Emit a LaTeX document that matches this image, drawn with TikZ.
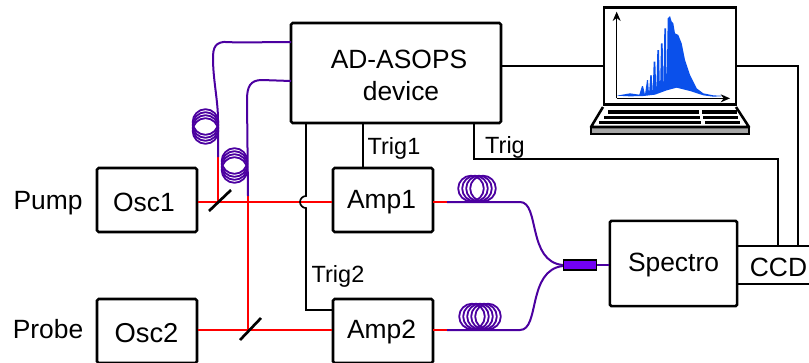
\documentclass[tikz,border=0pt]{standalone}
\usepackage{fontspec}
\setmainfont{Liberation Sans}
\usetikzlibrary{arrows.meta}
\definecolor{fibre}{RGB}{75,0,160}
\definecolor{specblue}{RGB}{10,80,235}
\definecolor{couplerfill}{RGB}{115,0,245}
\tikzset{
	box/.style={draw,line width=1.9pt,rounded corners=1.2pt,inner sep=0pt,font=\fontsize{19.8}{23}\selectfont},
	label/.style={inner sep=0pt,font=\fontsize{19.8}{23}\selectfont},
	smalllabel/.style={inner sep=0pt,font=\fontsize{17.6}{20}\selectfont},
	beam/.style={red,line width=1.6pt},
	fibreline/.style={fibre,line width=1.5pt},
	coilring/.style={fibre,line width=1.35pt},
	wire/.style={line width=1.25pt},
	mirror/.style={line width=2pt},
}
\begin{document}
\begin{tikzpicture}[x=0.75pt,y=-0.75pt]
	\useasboundingbox (0,0) rectangle (809,362);
	\begin{scope}
		\clip (0,0) rectangle (809,362);
		% boxes
		\node[box,minimum width=75pt,minimum height=48pt] (osc1) at (147,200) {};
		\node[box,minimum width=75pt,minimum height=48pt] (amp1) at (383,200) {};
		\node[box,minimum width=75pt,minimum height=48pt] (osc2) at (147,331) {};
		\node[box,minimum width=75pt,minimum height=48pt] (amp2) at (383,331) {};
		\node[box,minimum width=157.5pt,minimum height=75pt] (device) at (396,73) {};
		\node[box,minimum width=95.5pt,minimum height=64pt] (spectro) at (673.5,263.5) {};
		\draw[line width=1.9pt] (737,246) -- (812,246) (737,284) -- (812,284);
	\end{scope}
	\node[label] (osc1txt) at (144,202) {Osc1};
	\node[label] (amp1txt) at (381.5,202) {Amp1};
	\node[label] (osc2txt) at (146.5,333) {\fontsize{20.5}{24}\selectfont Osc2};
	\node[label] (amp2txt) at (381.5,332) {Amp2};
	\node[label,align=center] (devicetxt) at (399,75) {AD-ASOPS\\[1pt]\hspace{3pt}device};
	\node[label] (spectrotxt) at (673.5,265) {Spectro};
	\node[label] (ccd) at (778.5,267) {CCD};
	\node[label] (pump) at (48,203) {Pump};
	\node[label] (probe) at (48,329) {Probe};
	\node[smalllabel] (trig1) at (394,148) {Trig1};
	\node[smalllabel] (trig2) at (338,276) {Trig2};
	\node[smalllabel] (trig) at (505,147) {Trig};
	% beam splitters
	\coordinate (bs1) at (220,202);
	\coordinate (bs2) at (248,330);
	% laptop
	\node[draw,line width=1.9pt,minimum width=99pt,minimum height=72.5pt,inner sep=0pt] (screen) at (670,56) {};
	\fill[gray!70] (592,127) rectangle (749,134);
	\draw[line width=1.9pt,line join=round] (603,107) -- (591,127) -- (749,127) -- (736,107);
	\draw[line width=1.2pt] (591,127) -- (591,134) -- (749,134) -- (749,127);
	\foreach \xa/\xb/\xc/\yy in {608/699/702/112,604/700/703/117.5,599/701/705/122.5}{
		\draw[line width=2.5pt] (\xa,\yy) -- (\xb,\yy);
		\draw[line width=2.5pt] (\xc,\yy) -- (\xc+35,\yy);
	}
	% spectrum
	\begin{scope}[shift={(580,0)},x=0.25pt,y=-0.25pt]
		\fill[specblue] (110,287) -- (150,280) -- (178,284) -- (186,258) -- (189,258) -- (195,284) -- (201,240) -- (204,240) -- (207,282) -- (211,225) -- (215,225) -- (218,280) -- (221,185) -- (226,185) -- (229,279) -- (232,150) -- (237,150) -- (240,276) -- (243,130) -- (248,130) -- (250,273) -- (253,85) -- (258,85) -- (260,271) -- (263,55) -- (270,48) -- (275,65) -- (280,70) -- (285,100) -- (295,105) -- (305,130) -- (315,180) -- (330,225) -- (350,265) -- (370,280) -- (400,286) -- (435,288) -- (400,290) -- (370,286) -- (330,273) -- (290,263) -- (260,271) -- (225,284) -- (190,288) -- (150,289) -- cycle;
		\draw[-{Stealth[length=7pt,width=6pt]},line width=0.9pt] (110,295) -- (110,35);
		\draw[-{Stealth[length=7pt,width=6pt]},line width=0.9pt] (110,295) -- (450,295);
	\end{scope}
	% red beams
	\draw[beam] (osc1.east |- bs1) -- (amp1.west |- bs1);
	\draw[beam] (osc2.east |- bs2) -- (amp2.west |- bs2);
	\draw[beam] (218,157) -- (218,202);
	\draw[beam] (248,196) -- (bs2);
	\draw[mirror] (209,211) -- (231,190);
	\draw[mirror] (240,340) -- (261,318);
	% trigger lines
	\draw[wire] (363,123) -- (363,168);
	\draw[wire] (306,123) -- (306,196) arc[start angle=90,end angle=270,radius=4.5pt] -- (306,310) -- (333,310);
	\draw[wire] (474,123) -- (474,159) -- (778,159) -- (778,246);
	\draw[wire] (device.east |- 0,66) -- (screen.west |- 0,66);
	\draw[wire] (screen.east |- 0,66) -- (798,66) -- (798,246);
	% fibres with coils
	\draw[fibreline] (291,42) .. controls (260,42) and (240,43) .. (228,42) .. controls (215,41) and (213,48) .. (213,58) .. controls (213,80) and (218,100) .. (218,120) -- (218,157);
	\draw[fibreline] (291,81) -- (262,80) .. controls (250,80) and (247,87) .. (247,100) -- (248,196);
	\foreach \yy in {122,125,128,131}{\draw[coilring] (205.5,\yy) circle[radius=9.6pt];}
	\foreach \yy in {161,164,167,170}{\draw[coilring] (234.5,\yy) circle[radius=9.6pt];}
	\draw[beam] (433,202) -- (447,202);
	\draw[beam] (433,330) -- (447,330);
	\draw[fibreline] (447,202) -- (520,202) .. controls (540,202) and (527,262) .. (563,265);
	\draw[fibreline] (447,330) -- (520,330) .. controls (540,330) and (527,270) .. (563,266);
	\foreach \xx in {471,475,479,483}{\draw[coilring] (\xx,188.5) circle[radius=9.6pt];}
	\foreach \xx in {472,476,480,484,488}{\draw[coilring] (\xx,316.5) circle[radius=9.6pt];}
	% coupler
	\node[draw,line width=1.2pt,fill=couplerfill,minimum width=25pt,minimum height=7.5pt,inner sep=0pt] (coupler) at (580,265) {};
	\draw[fibreline,line width=1.7pt] (coupler.east) -- (spectro.west |- coupler.east);
\end{tikzpicture}
\end{document}
